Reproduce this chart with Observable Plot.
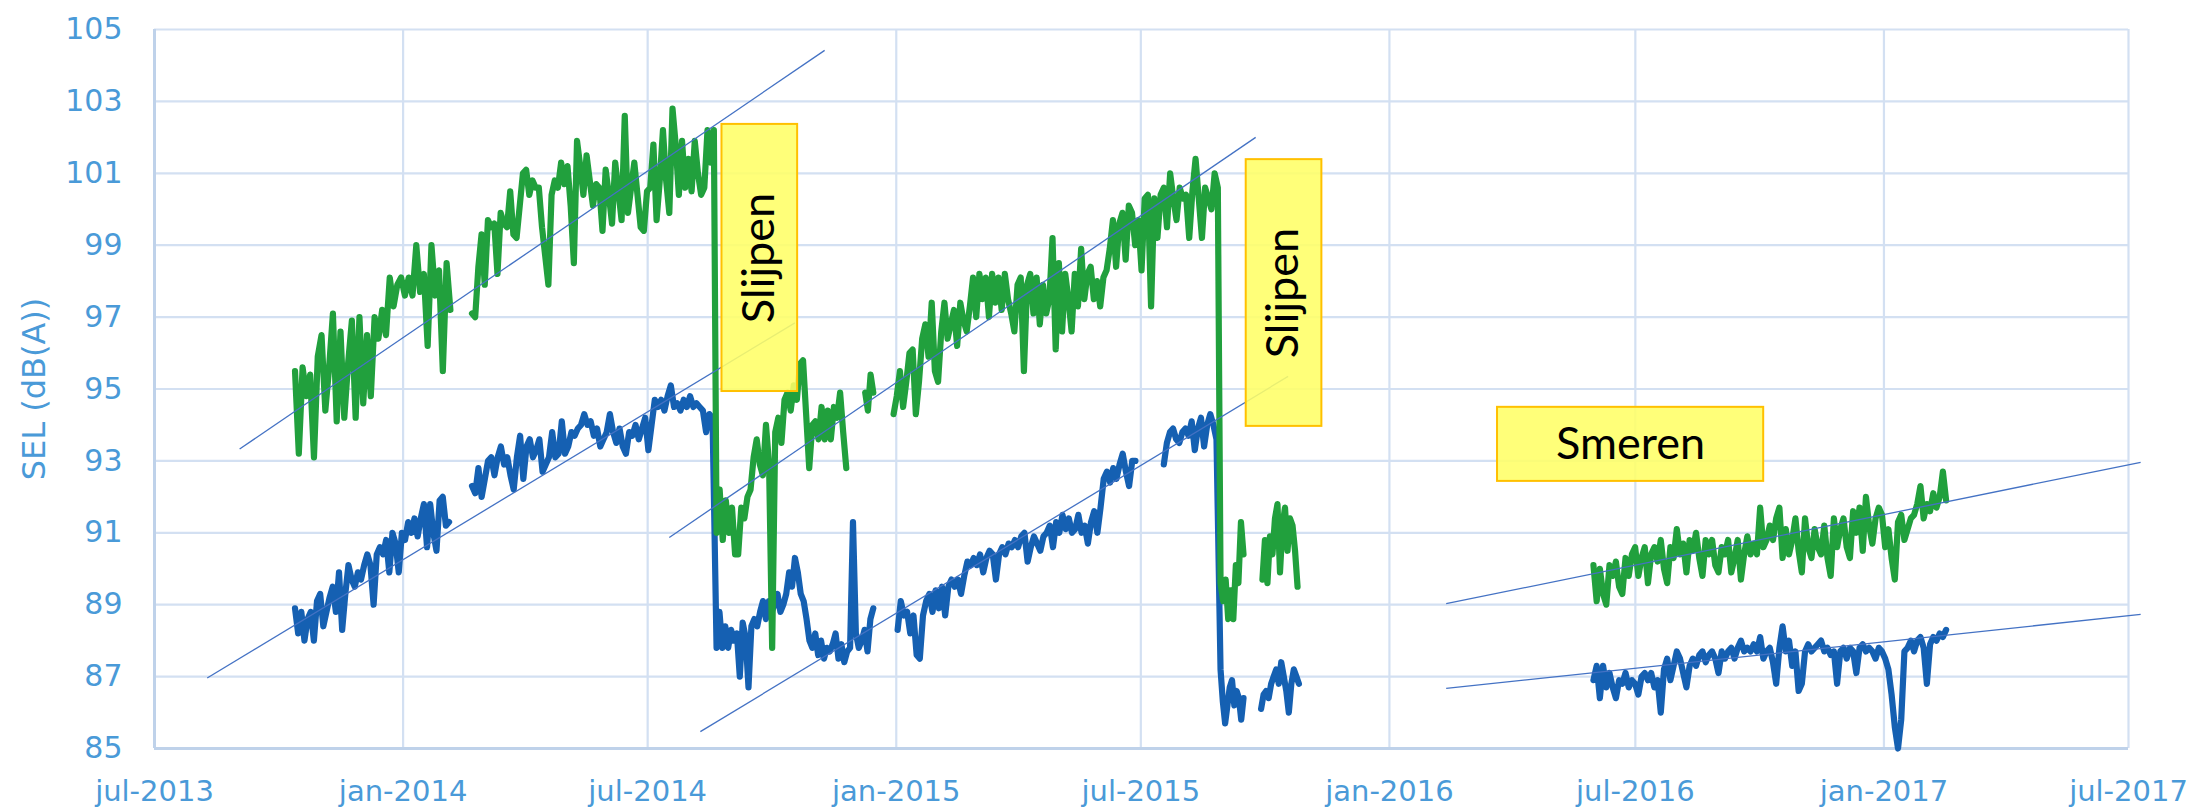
<!DOCTYPE html>
<html><head><meta charset="utf-8">
<script src="https://cdn.jsdelivr.net/npm/d3@7"></script>
<script src="https://cdn.jsdelivr.net/npm/@observablehq/plot@0.6"></script>
<style>html,body{margin:0;padding:0;background:#fff;overflow:hidden}</style>
</head><body><div id="chart"></div>
<script>
// ---- axis ticks ----
const xTickDates = ["2013-07-01","2014-01-01","2014-07-01","2015-01-01","2015-07-01","2016-01-01","2016-07-01","2017-01-01","2017-07-01"];
const xTickLabels = ["jul-2013","jan-2014","jul-2014","jan-2015","jul-2015","jan-2016","jul-2016","jan-2017","jul-2017"];
const yTicks = [85,87,89,91,93,95,97,99,101,103,105];
const yLabel = "SEL (dB(A))";

// ---- green series (daily SEL), segment by segment ----
const greenStart = ["2013-10-13","2014-02-21","2014-08-21","2014-12-09","2014-12-30","2015-08-29","2015-09-29","2016-05-31"];
const greenEnd   = ["2014-02-05","2014-08-19","2014-11-25","2014-12-15","2015-08-27","2015-09-15","2015-10-25","2017-02-16"];
const greenJoin  = [false,false,true,false,false,true,false,false];
const g1 = [95.5,93.2,95.6,94.8,95.4,93.1,95.9,96.5,94.4,95.6,97.1,94.1,96.6,94.2,95.7,96.9,94.2,97.0,94.6,96.5,94.8,97.0,96.4,97.2,96.5,98.1,97.3,97.9,98.1,97.6,98.1,97.6,99.0,97.7,98.2,96.2,99.0,97.6,98.3,95.5,98.5,97.2];
const g2 = [97.1,97.0,98.4,99.3,97.9,99.7,99.5,99.6,98.2,99.9,99.6,99.5,100.5,99.3,99.2,100.1,101.0,101.1,100.4,100.8,100.6,100.6,99.5,98.7,97.9,100.4,100.8,100.6,101.3,100.7,101.2,100.1,98.5,101.9,101.2,100.4,101.5,100.8,100.1,100.7,100.6,99.4,101.1,100.4,99.6,101.3,100.5,99.7,102.6,99.9,100.6,101.3,100.4,99.5,99.4,100.5,100.6,101.8,99.7,100.8,102.2,100.8,99.9,102.8,101.8,100.4,101.9,100.6,101.4,100.5,101.9,101.0,100.4,100.6,102.2,101.3,102.2];
const g3 = [91.0,92.2,90.8,91.9,91.0,91.7,90.4,90.4,91.7,91.4,92.0,92.2,93.1,93.6,92.9,92.6,94.0,92.9,87.8,93.8,94.2,93.5,94.7,94.9,94.4,95.1,94.7,95.7,95.8,94.3,92.8,94.0,94.1,93.6,94.5,93.6,94.4,93.6,94.5,94.2,94.9,93.8,92.8];
const g4 = [94.9,94.4,95.4,94.9];
const g5 = [94.3,94.8,95.5,94.5,95.2,96.0,96.1,94.3,95.2,96.4,96.8,95.9,97.4,95.5,95.2,96.6,97.4,96.4,96.8,97.2,96.2,97.4,96.9,96.6,97.3,98.1,97.0,98.2,97.5,98.1,97.0,98.2,97.4,98.1,97.2,98.2,97.5,97.1,96.6,97.9,98.1,95.5,97.9,98.2,97.1,98.1,96.8,97.9,97.1,
  97.5,99.2,96.1,98.5,96.6,98.2,97.5,96.6,98.2,97.3,98.9,97.5,98.2,98.4,97.5,98.0,97.3,98.1,98.3,98.9,99.7,98.4,99.6,99.9,98.6,100.1,99.9,99.0,99.7,98.3,100.3,100.4,97.3,100.3,99.2,100.4,100.6,99.5,101.0,100.3,99.7,100.6,100.3,100.4,99.2,100.5,101.4,100.3,99.2,100.6,100.3,100.0,101.0,100.6];
const g6 = [89.6,89.1,89.7,88.6,89.4,88.6,90.1,89.6,91.3,90.4];
const g7 = [89.7,90.8,89.6,90.9,90.4,91.4,91.8,89.9,91.2,91.7,90.5,91.4,91.2,90.5,89.5];
const g8 = [90.1,89.1,90.0,89.3,89.0,90.1,89.8,90.2,89.5,89.3,90.3,89.8,90.4,90.6,89.8,90.3,90.6,89.6,90.4,90.6,90.2,90.8,90.0,89.6,90.6,90.3,91.1,90.4,90.7,89.9,90.8,90.5,91.0,90.3,89.8,90.8,90.4,90.8,90.1,89.9,90.6,90.4,90.8,89.9,90.3,90.8,89.7,90.4,90.9,90.4,90.7,90.4,91.7,90.6,90.8,91.2,90.8,91.4,91.7,90.3,91.1,90.4,90.8,91.4,90.5,89.9,91.4,90.6,90.3,91.1,90.6,90.4,91.2,90.3,89.8,91.4,90.6,91.1,91.4,90.6,90.3,91.6,91.0,91.7,90.5,92.0,91.2,90.7,91.4,91.7,91.5,90.6,91.1,90.3,89.7,91.3,91.5,90.8,91.1,91.4,91.5,91.8,92.3,91.4,91.8,91.6,92.1,91.7,92.0,92.7,91.9];

// ---- blue series ----
const blueStart = ["2013-10-13","2014-02-21","2014-08-21","2015-01-02","2015-07-18","2015-08-29","2015-09-28","2016-05-31"];
const blueEnd   = ["2014-02-04","2014-08-18","2014-12-15","2015-06-27","2015-08-26","2015-09-15","2015-10-26","2017-02-16"];
const blueJoin  = [false,false,true,false,false,true,false,false];
const b1 = [88.9,88.2,88.8,88.0,88.6,88.8,88.0,89.1,89.3,88.4,88.8,89.2,89.5,88.8,89.9,88.3,89.3,90.1,89.7,89.5,89.9,89.7,90.1,90.4,90.1,89.0,90.4,90.6,90.4,90.8,89.9,91.0,90.7,89.9,91.0,90.8,91.3,91.0,91.4,90.9,91.4,91.8,90.6,91.8,91.0,90.5,91.9,92.0,91.2,91.3];
const b2 = [92.3,92.1,92.8,92.0,92.5,93.0,93.1,92.6,93.1,93.4,92.9,93.1,92.6,92.2,93.1,93.7,92.5,93.4,93.6,93.1,93.3,93.6,92.7,92.9,93.1,93.8,93.1,93.2,94.1,93.2,93.4,93.8,93.7,93.9,94.0,94.3,94.0,94.1,93.7,93.9,93.4,93.6,93.8,94.3,93.8,93.5,93.9,93.4,93.2,93.8,93.7,94.0,93.6,93.9,94.2,93.3,94.0,94.7,94.5,94.7,94.4,94.8,95.1,94.5,94.6,94.4,94.7,94.5,94.8,94.5,94.6,94.5,94.4,93.8,94.3,94.2];
const b3 = [87.8,88.8,87.8,88.4,87.8,88.3,88.0,88.2,87.0,88.5,88.1,86.7,88.4,88.6,88.4,88.8,89.1,88.6,89.1,88.8,89.0,89.3,88.8,89.0,89.3,89.9,89.5,90.3,89.9,89.3,89.1,88.6,88.0,87.8,88.2,87.6,88.0,87.5,87.8,87.7,87.9,88.2,87.5,87.9,87.4,87.7,87.8,91.3,88.2,87.8,88.0,88.3,87.7,88.6,88.9];
const b4 = [88.3,89.1,88.7,88.8,88.2,88.7,87.6,87.5,88.7,89.1,89.3,88.8,89.4,88.9,89.5,88.7,89.5,89.7,89.5,89.7,89.3,89.8,90.2,90.1,90.3,90.1,90.4,89.9,90.3,90.5,90.4,89.7,90.4,90.6,90.4,90.7,90.6,90.8,90.6,90.9,91.0,90.2,90.6,90.9,90.7,90.5,90.9,91.0,91.2,90.6,91.3,91.0,91.5,91.1,91.4,91.0,
  91.1,91.5,91.0,91.2,90.7,91.3,91.6,91.0,91.7,92.5,92.7,92.4,92.8,92.5,92.9,93.2,92.7,92.3,93.0,93.0];
const b5 = [92.9,93.5,93.8,93.9,93.6,93.5,93.8,93.9,93.7,94.1,93.3,93.9,94.2,93.4,94.0,94.3,94.0,93.6];
const b6 = [87.2,86.3,85.7,86.2,86.7,86.9,86.2,86.6,86.4,85.8,86.4];
const b7 = [86.1,86.5,86.6,86.4,86.8,87.0,87.2,86.8,87.4,87.0,86.6,86.0,86.8,87.2,87.0,86.8];
const b8 = [86.9,87.3,86.4,87.3,86.7,87.1,86.7,86.4,86.9,86.8,87.1,86.7,86.9,86.8,86.5,87.0,87.1,86.9,87.1,86.7,86.9,86.0,87.2,87.5,86.9,87.3,87.7,87.5,87.1,86.7,87.3,87.5,87.3,87.6,87.7,87.4,87.6,87.7,87.5,87.1,87.7,87.5,87.7,87.8,87.5,87.8,88.0,87.7,87.8,87.7,87.9,87.7,88.1,87.5,87.7,87.8,87.4,86.8,87.8,88.4,87.7,88.0,87.3,87.7,86.6,86.8,87.7,87.9,87.7,87.8,87.9,88.0,87.7,87.8,87.6,87.7,86.8,87.7,87.8,87.5,87.8,87.7,87.1,87.8,87.9,87.7,87.8,87.7,87.5,87.8,87.7,87.5,87.2,86.5,85.6,85.0,85.8,87.7,87.8,88.0,87.7,88.0,88.1,87.8,86.8,87.9,88.1,88.0,88.2,88.1,88.3];

// ---- trend lines ----
const trendStart    = ["2013-09-02","2013-08-09","2014-07-17","2014-08-09","2016-02-12","2016-02-12"];
const trendEnd      = ["2014-11-09","2014-10-18","2015-09-24","2015-10-18","2017-07-10","2017-07-10"];
const trendStartVal = [93.33,86.96,90.87,85.47,89.03,86.67];
const trendEndVal   = [104.42,96.84,102.0,95.35,92.96,88.73];

// ---- annotations ----
const noteLabels = ["Slijpen","Slijpen","Smeren"];
const noteStart  = ["2014-08-25","2015-09-17","2016-03-21"];
const noteEnd    = ["2014-10-20","2015-11-12","2016-10-04"];
const noteLow    = [94.93,93.96,92.43];
const noteHigh   = [102.36,101.38,94.49];
const noteRotate = [-90,-90,0];

// ---- build tables ----
function build(starts, ends, joins, values) {
  const rows = [];
  starts.forEach((s, k) => {
    if (k > 0 && !joins[k]) rows.push({date: new Date(s), value: NaN});
    const t0 = +new Date(s), t1 = +new Date(ends[k]), v = values[k], n = v.length;
    v.forEach((val, i) => rows.push({date: new Date(t0 + (t1 - t0) * (n > 1 ? i / (n - 1) : 0)), value: val}));
  });
  return rows;
}
const greenRows = build(greenStart, greenEnd, greenJoin, [g1,g2,g3,g4,g5,g6,g7,g8]);
const blueRows  = build(blueStart, blueEnd, blueJoin, [b1,b2,b3,b4,b5,b6,b7,b8]);
const trends = trendStart.map((s, i) => ({x1: new Date(s), x2: new Date(trendEnd[i]), y1: trendStartVal[i], y2: trendEndVal[i]}));
const notes = noteLabels.map((t, i) => ({text: t, x1: new Date(noteStart[i]), x2: new Date(noteEnd[i]), y1: noteLow[i], y2: noteHigh[i], rotate: noteRotate[i]}));
const xTicks = xTickDates.map(d => new Date(d));
const labelOf = new Map(xTicks.map((d, i) => [+d, xTickLabels[i]]));

const tickColor = "#4a9ad8";
const gridColor = "#d3e0f2";
const frameColor = "#bfd2ea";

const chart = Plot.plot({
  width: 2195, height: 810,
  marginLeft: 154, marginRight: 67, marginTop: 29, marginBottom: 62,
  style: {fontFamily: "'DejaVu Sans', sans-serif", background: "#fff", overflow: "visible"},
  x: {type: "utc", domain: [xTicks[0], xTicks[xTicks.length - 1]]},
  y: {domain: [85, 105]},
  marks: [
    Plot.gridX(xTicks, {stroke: gridColor, strokeOpacity: 1, strokeWidth: 2.2}),
    Plot.gridY(yTicks, {stroke: gridColor, strokeOpacity: 1, strokeWidth: 2.2}),
    Plot.ruleX([xTicks[0]], {stroke: frameColor, strokeWidth: 3}),
    Plot.ruleY([85], {stroke: frameColor, strokeWidth: 3}),
    Plot.axisX(xTicks, {tickSize: 0, tickPadding: 32, tickFormat: d => labelOf.get(+d), fontSize: 29, color: tickColor, label: null}),
    Plot.axisY(yTicks, {tickSize: 0, tickPadding: 32, fontSize: 30, color: tickColor, label: null}),
    Plot.text([yLabel], {text: d => d, frameAnchor: "left", dx: -120, rotate: -90, textAnchor: "middle", lineAnchor: "middle", fontSize: 32, fill: tickColor}),
    Plot.line(blueRows, {x: "date", y: "value", stroke: "#1560b2", strokeWidth: 6.2, strokeLinejoin: "round"}),
    Plot.line(greenRows, {x: "date", y: "value", stroke: "#21a03d", strokeWidth: 6.2, strokeLinejoin: "round"}),
    Plot.link(trends, {x1: "x1", y1: "y1", x2: "x2", y2: "y2", stroke: "#4472c4", strokeWidth: 1.3}),
    Plot.rect(notes, {x1: "x1", x2: "x2", y1: "y1", y2: "y2", fill: "#ffff66", fillOpacity: 0.88, stroke: "#ffc000", strokeWidth: 2}),
    Plot.text(notes, {x: d => new Date((+d.x1 + +d.x2) / 2), y: d => (d.y1 + d.y2) / 2, text: "text", rotate: "rotate", fontSize: 45, fontFamily: "Lato", fill: "#000"})
  ]
});
document.getElementById("chart").appendChild(chart);
</script>
</body></html>
